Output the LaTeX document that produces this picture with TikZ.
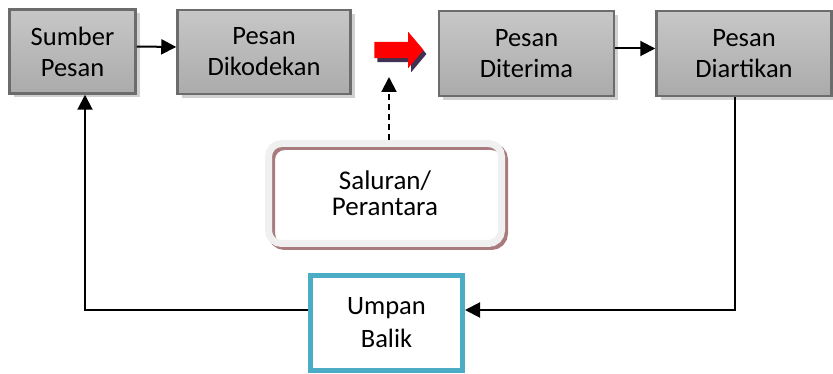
\documentclass[tikz,border=0pt]{standalone}
\usepackage{fontspec}
\setmainfont{Carlito}
\usetikzlibrary{arrows.meta,shapes.arrows,shadows}
\definecolor{tepiabu}{RGB}{108,108,108}
\definecolor{birumuda}{RGB}{75,172,198}
\definecolor{bayangungu}{RGB}{64,49,82}
\definecolor{bayangmerah}{RGB}{168,124,126}
\definecolor{pinggir}{RGB}{240,240,240}

\begin{document}
\begin{tikzpicture}[x=1pt, y=-1pt,
    kotak/.style={draw=tepiabu, line width=2.5pt, top color=gray!44, bottom color=gray!66,
        align=center, font=\fontsize{26.5}{31}\selectfont,
        drop shadow={shadow xshift=4pt, shadow yshift=-4pt, fill=black!18, opacity=1}},
    panah/.style={line width=2pt, -{Triangle[length=15pt,width=15pt]}}]
    \useasboundingbox (0,0) rectangle (833,374);

    % baris atas
    \node[kotak, minimum width=126pt, minimum height=84pt] (sumber) at (72.5,51.5) {Sumber\\Pesan};
    \node[kotak, minimum width=173pt, minimum height=84pt] (dikodekan) at (264,52) {Pesan\\Dikodekan};
    \node[kotak, minimum width=175pt, minimum height=85pt] (diterima) at (526.5,53.5) {Pesan\\Diterima};
    \node[kotak, minimum width=175pt, minimum height=85pt] (diartikan) at (744,53.5) {Pesan\\Diartikan};

    \node[single arrow, fill=red, minimum height=49pt, inner xsep=0pt, inner ysep=8pt,
        single arrow head extend=10pt, single arrow tip angle=100,
        drop shadow={shadow xshift=3pt, shadow yshift=-4pt, fill=bayangungu, opacity=1}] (kirim) at (395.5,50) {};

    % saluran dan umpan balik
    \node[draw=pinggir, line width=7pt, rounded corners=13pt, minimum width=233pt, minimum height=100pt,
        align=center, font=\fontsize{27}{26}\selectfont,
        drop shadow={shadow xshift=3pt, shadow yshift=-3pt, fill=none, draw=bayangmerah, opacity=1}] (saluran) at (385,193.5) {Saluran/\\Perantara};
    \node[draw=birumuda, line width=5pt, minimum width=152pt, minimum height=95pt,
        align=center, font=\fontsize{26.5}{33}\selectfont] (umpan) at (386.5,323) {Umpan\\Balik};

    \coordinate (ujung) at (389,77);

    \draw[panah] ([yshift=5pt]sumber.east) -- ([yshift=5pt]dikodekan.west);
    \draw[panah] ([yshift=5pt]diterima.east) -- ([yshift=5pt]diartikan.west);
    \draw[panah, dash pattern=on 6pt off 4pt, -{Triangle[length=15pt,width=15pt]}] (saluran.north -| ujung) -- (ujung);
    \draw[panah] ([xshift=-9pt]diartikan.south) |- ([yshift=13pt]umpan.east);
    \draw[panah] ([yshift=13pt]umpan.west) -| ([xshift=12.5pt]sumber.south);
\end{tikzpicture}
\end{document}
